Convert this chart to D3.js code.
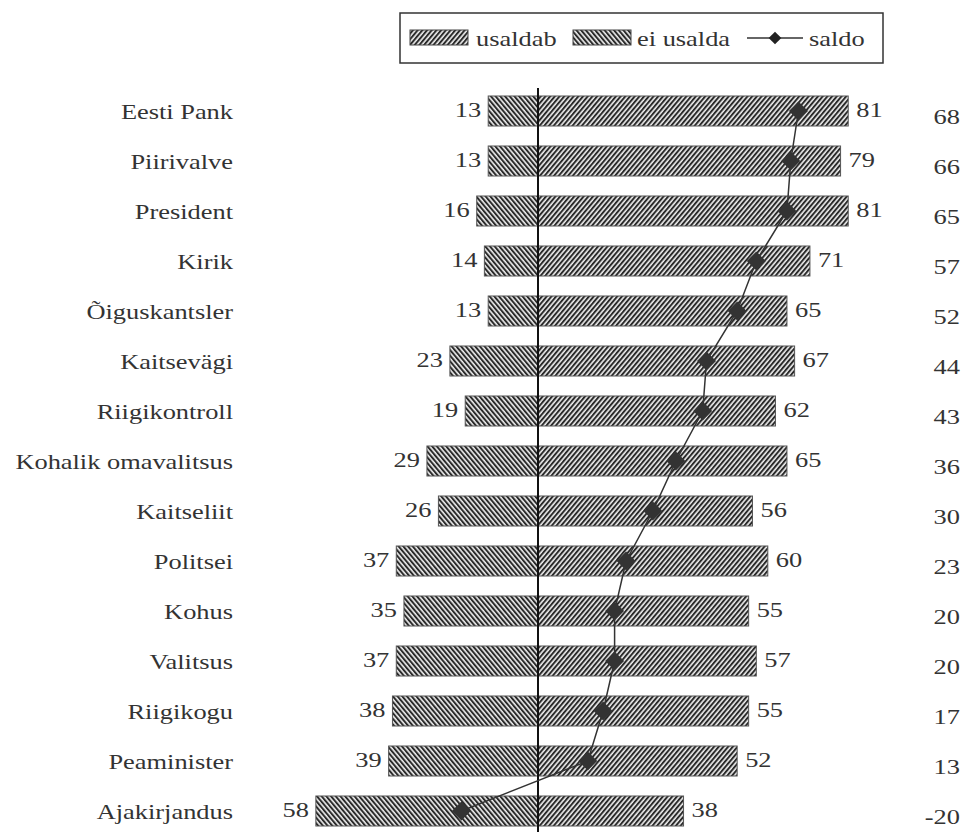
<!DOCTYPE html>
<html><head><meta charset="utf-8">
<script src="https://cdn.jsdelivr.net/npm/d3@7"></script>
<style>
html,body{margin:0;padding:0;background:#fff;}
svg text{font-family:"Liberation Serif","Tinos","Times New Roman",serif;fill:#333;}
</style></head>
<body>
<svg id="c" width="968" height="832"></svg>
<script>
const categories = ["Eesti Pank","Piirivalve","President","Kirik","Õiguskantsler","Kaitsevägi","Riigikontroll","Kohalik omavalitsus","Kaitseliit","Politsei","Kohus","Valitsus","Riigikogu","Peaminister","Ajakirjandus"];
const usaldab   = [81,79,81,71,65,67,62,65,56,60,55,57,55,52,38];
const eiUsalda  = [13,13,16,14,13,23,19,29,26,37,35,37,38,39,58];
const saldo     = [68,66,65,57,52,44,43,36,30,23,20,20,17,13,-20];
const legendLabels = ["usaldab","ei usalda","saldo"];

const FONT = "'Liberation Serif', Tinos, 'Times New Roman', serif";
const SX = 1.2, FS = 22;
const svg = d3.select("#c").attr("font-family", FONT);
const defs = svg.append("defs");
function hatch(id, angle){
  const p = defs.append("pattern").attr("id",id).attr("patternUnits","userSpaceOnUse")
    .attr("width",3.6).attr("height",3.6).attr("patternTransform",`rotate(${angle})`);
  p.append("rect").attr("width",3.6).attr("height",3.6).attr("fill","#eeeeee");
  p.append("rect").attr("width",2).attr("height",3.6).attr("fill","#2a2a2a");
}
hatch("hUs", 40);
hatch("hEi", -40);

const data = categories.map((c,i)=>({c, us:usaldab[i], ei:eiUsalda[i], s:saldo[i]}));

const x = d3.scaleLinear().domain([-60,90]).range([538-60*3.83, 538+90*3.83]);
const y = d3.scaleBand().domain(categories).range([86,836]).paddingInner(0.4).paddingOuter(0.2);

function stxt(sel, fx, fy, anchor){
  return sel.attr("transform",(d,i)=>`translate(${fx(d,i)},${fy(d,i)}) scale(${SX},1)`)
    .attr("text-anchor",anchor).attr("font-size",FS).attr("font-family",FONT);
}

const g = svg.append("g");
g.selectAll(".ei").data(data).join("rect")
  .attr("x",d=>x(-d.ei)).attr("y",d=>y(d.c)).attr("width",d=>x(0)-x(-d.ei)).attr("height",y.bandwidth())
  .attr("fill","url(#hEi)").attr("stroke","#555").attr("stroke-width",1);
g.selectAll(".us").data(data).join("rect")
  .attr("x",x(0)).attr("y",d=>y(d.c)).attr("width",d=>x(d.us)-x(0)).attr("height",y.bandwidth())
  .attr("fill","url(#hUs)").attr("stroke","#555").attr("stroke-width",1);

g.append("line").attr("x1",x(0)).attr("x2",x(0)).attr("y1",88).attr("y2",832)
  .attr("stroke","#111").attr("stroke-width",2);

const cy = d=>y(d.c)+y.bandwidth()/2;
g.append("path").datum(data)
  .attr("d",d3.line().x(d=>x(d.s)).y(cy))
  .attr("fill","none").attr("stroke","#333").attr("stroke-width",1.5);
const sym = d3.symbol().type(d3.symbolSquare).size(180);
g.selectAll(".dm").data(data).join("path")
  .attr("d",sym).attr("transform",d=>`translate(${x(d.s)},${cy(d)}) rotate(45)`)
  .attr("fill","#333");

stxt(g.selectAll(".cat").data(data).join("text"), ()=>233, d=>cy(d), "end")
  .attr("dy","0.35em").text(d=>d.c);
stxt(g.selectAll(".el").data(data).join("text"), d=>x(-d.ei)-7, d=>cy(d)-2, "end")
  .attr("dy","0.35em").text(d=>d.ei);
stxt(g.selectAll(".ul").data(data).join("text"), d=>x(d.us)+8, d=>cy(d)-2, "start")
  .attr("dy","0.35em").text(d=>d.us);
stxt(g.selectAll(".sl").data(data).join("text"), ()=>960, d=>cy(d)+5, "end")
  .attr("dy","0.35em").text(d=>d.s);

const L = svg.append("g").attr("font-family",FONT);
L.append("rect").attr("x",400).attr("y",13).attr("width",483).attr("height",50)
  .attr("fill","#fff").attr("stroke","#333").attr("stroke-width",1.5);
L.append("rect").attr("x",410).attr("y",30).attr("width",58).attr("height",15)
  .attr("fill","url(#hUs)").attr("stroke","#444");
L.append("rect").attr("x",573).attr("y",30).attr("width",58).attr("height",15)
  .attr("fill","url(#hEi)").attr("stroke","#444");
L.append("line").attr("x1",747).attr("x2",803).attr("y1",38).attr("y2",38).attr("stroke","#333").attr("stroke-width",1.5);
L.append("path").attr("d",d3.symbol().type(d3.symbolSquare).size(80)).attr("transform","translate(775,38) rotate(45)").attr("fill","#222");
const legX = [476, 637, 809];
stxt(L.selectAll(".lt").data(legendLabels).join("text"), (d,i)=>legX[i], ()=>38, "start")
  .attr("dy","0.35em").text(d=>d);
</script>
</body></html>
